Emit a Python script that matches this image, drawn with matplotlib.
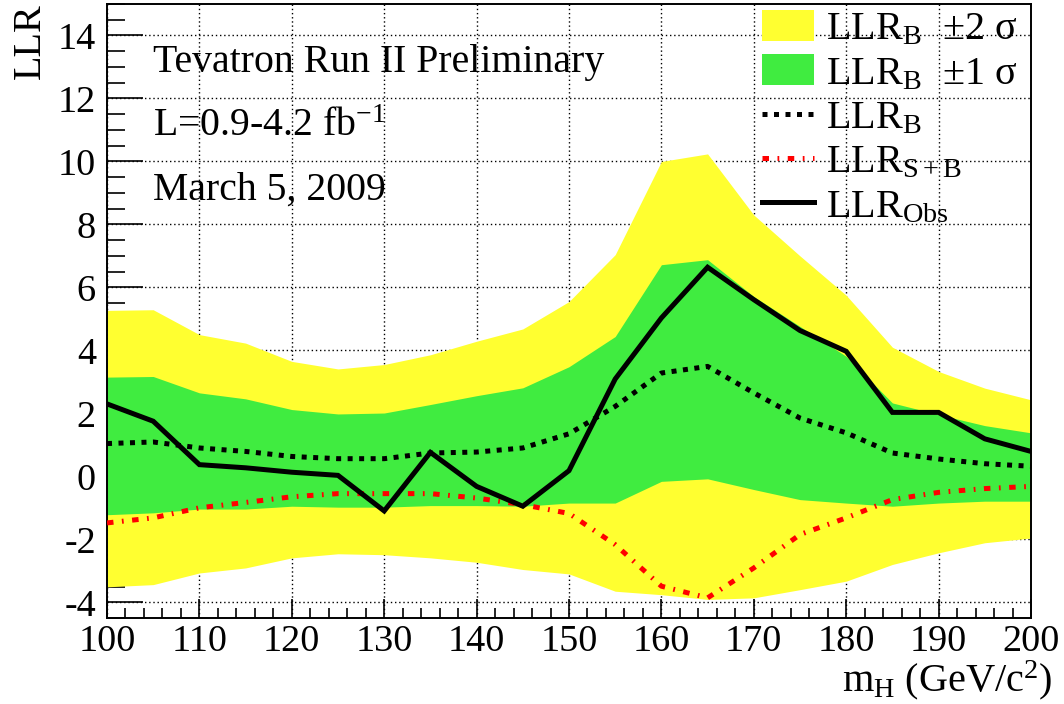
import matplotlib
matplotlib.use("Agg")
import matplotlib.pyplot as plt
from matplotlib.patches import Patch
from matplotlib.lines import Line2D
from matplotlib.ticker import MultipleLocator

plt.rcParams['font.family'] = ['Liberation Serif', 'DejaVu Serif']
plt.rcParams['mathtext.fontset'] = 'custom'
plt.rcParams['mathtext.rm'] = 'Liberation Serif'
plt.rcParams['mathtext.it'] = 'Liberation Serif:italic'
plt.rcParams['axes.unicode_minus'] = False

# ---- data ----
mass = [100, 105, 110, 115, 120, 125, 130, 135, 140, 145, 150,
        155, 160, 165, 170, 175, 180, 185, 190, 195, 200]
llr_obs = [2.3, 1.75, 0.37, 0.27, 0.13, 0.03, -1.1, 0.76, -0.32, -0.95, 0.18,
           3.09, 5.03, 6.64, 5.61, 4.63, 3.97, 2.03, 2.03, 1.19, 0.79]
llr_b = [1.04, 1.09, 0.9, 0.79, 0.63, 0.56, 0.56, 0.74, 0.77, 0.9, 1.35,
         2.22, 3.28, 3.49, 2.65, 1.85, 1.38, 0.74, 0.55, 0.40, 0.32]
llr_sb = [-1.48, -1.32, -1.0, -0.83, -0.65, -0.55, -0.55, -0.55, -0.69, -0.9, -1.18,
          -2.17, -3.49, -3.86, -2.91, -1.85, -1.32, -0.74, -0.51, -0.39, -0.32]
p2sig = [5.27, 5.29, 4.5, 4.23, 3.65, 3.41, 3.55, 3.86, 4.29, 4.68, 5.55,
         7.04, 10.0, 10.24, 8.3, 7.0, 5.75, 4.1, 3.33, 2.8, 2.43]
p1sig = [3.15, 3.17, 2.65, 2.46, 2.12, 1.98, 2.01, 2.28, 2.56, 2.81, 3.48,
         4.44, 6.72, 6.88, 5.71, 4.76, 3.81, 2.33, 1.96, 1.61, 1.38]
m1sig = [-1.22, -1.16, -1.04, -1.04, -0.95, -0.98, -0.98, -0.93, -0.93, -0.95, -0.85,
         -0.85, -0.16, -0.08, -0.42, -0.74, -0.85, -0.95, -0.85, -0.79, -0.79]
m2sig = [-3.51, -3.44, -3.07, -2.91, -2.59, -2.46, -2.49, -2.59, -2.73, -2.96, -3.1,
         -3.65, -3.76, -3.91, -3.86, -3.6, -3.33, -2.8, -2.43, -2.11, -1.96]

x_ticks = [100, 110, 120, 130, 140, 150, 160, 170, 180, 190, 200]
y_ticks = [-4, -2, 0, 2, 4, 6, 8, 10, 12, 14]

YELLOW = '#ffff30'
GREEN = '#40ec40'

fig = plt.figure(figsize=(10.64, 7.04), dpi=100)
ax = fig.add_axes([107/1064, 86/704, 924/1064, 614/704])

ax.fill_between(mass, m2sig, p2sig, color=YELLOW, lw=0, zorder=1)
ax.fill_between(mass, m1sig, p1sig, color=GREEN, lw=0, zorder=1.1)

B_STYLE = (0, (1.0, 1.3))
SB_STYLE = (0, (1.3, 1.7, 0.35, 1.7))
ax.plot(mass, llr_b, color='black', lw=3.6, linestyle=B_STYLE,
        dash_capstyle='butt', zorder=3)
ax.plot(mass, llr_sb, color='red', lw=3.6, linestyle=SB_STYLE,
        dash_capstyle='butt', zorder=3)
ax.plot(mass, llr_obs, color='black', lw=3.6, solid_joinstyle='miter', zorder=4)

ax.set_xlim(100, 200)
ax.set_ylim(-4.5, 15)
ax.set_xticks(x_ticks)
ax.set_yticks(y_ticks)
ax.xaxis.set_minor_locator(MultipleLocator(2))
ax.yaxis.set_minor_locator(MultipleLocator(0.5))
ax.tick_params(which='both', direction='in', top=False, right=False,
               labelsize=27.5, width=1.2, color='black')
ax.tick_params(which='major', axis='y', length=26, pad=8)
ax.tick_params(which='minor', axis='y', length=13)
ax.tick_params(which='major', axis='x', length=14, pad=5)
ax.tick_params(which='minor', axis='x', length=7)
ax.set_axisbelow(True)
ax.grid(True, which='major', color='black', linestyle=(0, (1, 2)), lw=1.0)
for s in ax.spines.values():
    s.set_linewidth(1.4)

txt_kw = dict(transform=ax.transAxes, fontsize=28.6, va='baseline', ha='left')
ax.text(0.05, 0.890, 'Tevatron Run II Preliminary', **txt_kw)
ax.text(0.05, 0.785, r'L=0.9-4.2 fb$^{\mathrm{-1}}$', **txt_kw)
ax.text(0.05, 0.681, 'March 5, 2009', **txt_kw)

fig.text(30/1064, 1 - 3/704, 'LLR', rotation=90, ha='center', va='top', fontsize=29)
fig.text(1052/1064, 13/704, r'm$_{\mathrm{H}}$ (GeV/c$^{\mathrm{2}}$)', ha='right',
         va='baseline', fontsize=29)

handles = [Patch(facecolor=YELLOW, edgecolor='none'),
           Patch(facecolor=GREEN, edgecolor='none'),
           Line2D([], [], color='black', lw=3.6, linestyle=B_STYLE, dash_capstyle='butt'),
           Line2D([], [], color='red', lw=3.6, linestyle=SB_STYLE, dash_capstyle='butt'),
           Line2D([], [], color='black', lw=3.6)]
labels = [r'LLR$_{\mathrm{B}}$  ±2 σ', r'LLR$_{\mathrm{B}}$  ±1 σ',
          r'LLR$_{\mathrm{B}}$', r'LLR$_{\mathrm{S+B}}$', r'LLR$_{\mathrm{Obs}}$']
leg = ax.legend(handles, labels, loc='upper left', bbox_to_anchor=(762/1064, 1 - 10/704),
                bbox_transform=fig.transFigure, frameon=False, fontsize=29,
                handlelength=1.3, handleheight=0.8, handletextpad=0.3,
                labelspacing=0.15, borderpad=0, borderaxespad=0)

fig.savefig('out.png', dpi=100)
